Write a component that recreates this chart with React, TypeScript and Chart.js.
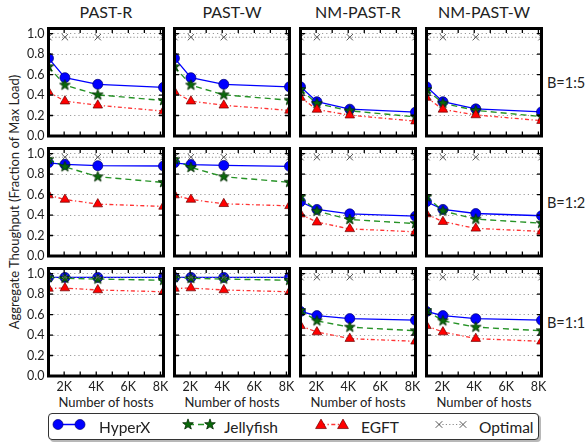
import React, { useEffect, useRef } from "react";
import { Chart, registerables } from "chart.js";

Chart.register(...registerables);

// ---------- data ----------
const hosts = [1024, 2048, 4096, 8192];
const columnTitles = ["PAST-R", "PAST-W", "NM-PAST-R", "NM-PAST-W"];
const rowLabels = ["B=1:5", "B=1:2", "B=1:1"];
const xTickValues = [2000, 3000, 4000, 5000, 6000, 7000, 8000];
const yTickValues = [0, 0.2, 0.4, 0.6, 0.8, 1.0];
const seriesNames = ["HyperX", "Jellyfish", "EGFT", "Optimal"];
const yAxisTitle = "Aggregate Thoughput (Fraction of Max Load)";
const xAxisTitle = "Number of hosts";

// [row][column][host]
const hyperX = [
  [[0.76, 0.57, 0.505, 0.475], [0.76, 0.57, 0.505, 0.48], [0.48, 0.335, 0.262, 0.233], [0.48, 0.335, 0.265, 0.235]],
  [[0.91, 0.895, 0.882, 0.879], [0.91, 0.893, 0.885, 0.876], [0.53, 0.455, 0.412, 0.389], [0.53, 0.455, 0.415, 0.393]],
  [[0.963, 0.963, 0.963, 0.963], [0.963, 0.963, 0.963, 0.963], [0.63, 0.59, 0.561, 0.545], [0.63, 0.59, 0.56, 0.545]],
];
const jellyfish = [
  [[0.677, 0.497, 0.402, 0.347], [0.677, 0.497, 0.402, 0.35], [0.454, 0.317, 0.246, 0.187], [0.454, 0.32, 0.25, 0.19]],
  [[0.944, 0.872, 0.774, 0.719], [0.944, 0.865, 0.774, 0.72], [0.578, 0.438, 0.357, 0.317], [0.578, 0.44, 0.36, 0.32]],
  [[0.963, 0.954, 0.947, 0.935], [0.963, 0.954, 0.947, 0.935], [0.639, 0.539, 0.477, 0.442], [0.639, 0.539, 0.477, 0.442]],
];
const egft = [
  [[0.43, 0.34, 0.3, 0.243], [0.43, 0.34, 0.3, 0.25], [0.376, 0.259, 0.203, 0.145], [0.376, 0.26, 0.205, 0.15]],
  [[0.595, 0.552, 0.507, 0.484], [0.595, 0.552, 0.51, 0.49], [0.409, 0.33, 0.265, 0.236], [0.41, 0.335, 0.27, 0.24]],
  [[0.855, 0.859, 0.84, 0.823], [0.855, 0.859, 0.84, 0.823], [0.49, 0.429, 0.365, 0.339], [0.49, 0.429, 0.365, 0.339]],
];
const optimal = [0.965, 0.965, 0.965, 0.965];

// ---------- layout ----------
const FONT = "Lato, 'Open Sans', sans-serif";
const COL_STEP = 126;
const ROW_STEP = 120;
const CANVAS_LEFT0 = 4;
const CANVAS_TOP0 = 16;
const Y_AXIS_W = 44.5;
const X_AXIS_H = 30;
const PAD_TOP = 12.5;
const PAD_RIGHT = 12.5;
const PLOT_W = 115;
const PLOT_H = 107.5;
const CANVAS_W = Y_AXIS_W + PLOT_W + PAD_RIGHT;
const CANVAS_H = PAD_TOP + PLOT_H + X_AXIS_H;

function makeStar(): HTMLCanvasElement {
  const c = document.createElement("canvas");
  c.width = 13;
  c.height = 13;
  const g = c.getContext("2d")!;
  g.translate(6.5, 6.5);
  g.beginPath();
  for (let i = 0; i < 10; i++) {
    const r = i % 2 === 0 ? 5.6 : 2.3;
    const a = -Math.PI / 2 + (i * Math.PI) / 5;
    const px = r * Math.cos(a);
    const py = r * Math.sin(a);
    if (i === 0) g.moveTo(px, py);
    else g.lineTo(px, py);
  }
  g.closePath();
  g.fillStyle = "#0a6a0a";
  g.fill();
  g.strokeStyle = "#002800";
  g.lineWidth = 0.8;
  g.stroke();
  return c;
}

const framePlugin = {
  id: "frameTicks",
  afterDraw(chart: any) {
    const { ctx, chartArea: a, scales } = chart;
    ctx.save();
    ctx.strokeStyle = "#000";
    ctx.lineWidth = 1.3;
    const tl = 4.5;
    ctx.beginPath();
    for (const v of xTickValues) {
      const x = scales.x.getPixelForValue(v);
      ctx.moveTo(x, a.bottom);
      ctx.lineTo(x, a.bottom - tl);
      ctx.moveTo(x, a.top);
      ctx.lineTo(x, a.top + tl);
    }
    for (const v of yTickValues) {
      const y = scales.y.getPixelForValue(v);
      ctx.moveTo(a.left, y);
      ctx.lineTo(a.left + tl, y);
      ctx.moveTo(a.right, y);
      ctx.lineTo(a.right - tl, y);
    }
    ctx.stroke();
    ctx.lineWidth = 3;
    ctx.strokeRect(a.left, a.top, a.right - a.left, a.bottom - a.top);
    ctx.restore();
  },
};

function Panel({ r, c }: { r: number; c: number }) {
  const ref = useRef<HTMLCanvasElement>(null);
  useEffect(() => {
    const star = makeStar();
    const showY = c === 0;
    const showX = r === 2;
    const chart = new Chart(ref.current!, {
      type: "line",
      data: {
        datasets: [
          {
            label: seriesNames[3],
            data: hosts.map((h, i) => ({ x: h, y: optimal[i] })),
            borderColor: "#8a8a8a",
            borderWidth: 1.1,
            borderDash: [1.2, 2.2],
            pointStyle: "crossRot",
            pointRadius: 4.5,
            pointBorderColor: "#555",
            pointBorderWidth: 1,
            order: 1,
            clip: 0,
          },
          {
            label: seriesNames[2],
            data: hosts.map((h, i) => ({ x: h, y: egft[r][c][i] })),
            borderColor: "rgba(255,0,0,0.8)",
            borderWidth: 1.3,
            borderDash: [4, 2.5, 1.3, 2.5],
            pointStyle: "triangle",
            pointRadius: 5.5,
            pointBackgroundColor: "#ff0000",
            pointBorderColor: "#6a0000",
            pointBorderWidth: 0.7,
            order: 2,
            clip: 0,
          },
          {
            label: seriesNames[1],
            data: hosts.map((h, i) => ({ x: h, y: jellyfish[r][c][i] })),
            borderColor: "rgba(0,128,0,0.85)",
            borderWidth: 1.4,
            borderDash: [6, 4],
            pointStyle: star,
            pointRadius: 5,
            order: 3,
            clip: 0,
          },
          {
            label: seriesNames[0],
            data: hosts.map((h, i) => ({ x: h, y: hyperX[r][c][i] })),
            borderColor: "#0000ff",
            borderWidth: 1.3,
            pointStyle: "circle",
            pointRadius: 5,
            pointBackgroundColor: "#0000ff",
            pointBorderColor: "#000070",
            pointBorderWidth: 0.7,
            order: 4,
            clip: 0,
          },
        ],
      },
      options: {
        animation: false,
        responsive: false,
        maintainAspectRatio: false,
        events: [],
        layout: { padding: { left: 0, top: PAD_TOP, right: PAD_RIGHT, bottom: 0 } },
        plugins: { legend: { display: false }, tooltip: { enabled: false }, title: { display: false } },
        elements: { line: { tension: 0 } },
        scales: {
          x: {
            type: "linear",
            min: 1024,
            max: 8192,
            grid: { display: false, drawTicks: false },
            border: { display: false },
            afterBuildTicks: (s: any) => {
              s.ticks = xTickValues.map((v) => ({ value: v }));
            },
            afterFit: (s: any) => {
              s.height = X_AXIS_H;
            },
            ticks: {
              display: showX,
              autoSkip: false,
              maxRotation: 0,
              minRotation: 0,
              padding: 3.5,
              color: "#222",
              font: { family: FONT, size: 12.5 },
              callback: (v: any) => (Number(v) % 2000 === 0 ? Number(v) / 1000 + "K" : ""),
            },
          },
          y: {
            type: "linear",
            min: 0,
            max: 1.05,
            grid: { display: true, drawTicks: false, color: "#9a9a9a", lineWidth: 1 },
            border: { display: false, dash: [1.2, 3] },
            afterBuildTicks: (s: any) => {
              s.ticks = yTickValues.map((v) => ({ value: v }));
            },
            afterFit: (s: any) => {
              s.width = Y_AXIS_W;
            },
            ticks: {
              display: showY,
              padding: 4,
              color: "#222",
              font: { family: FONT, size: 12.5 },
              callback: (v: any) => Number(v).toFixed(1),
            },
          },
        },
      },
      plugins: [framePlugin],
    } as any);
    return () => chart.destroy();
  }, [r, c]);
  return (
    <canvas
      ref={ref}
      width={CANVAS_W}
      height={CANVAS_H}
      style={{
        position: "absolute",
        left: CANVAS_LEFT0 + c * COL_STEP,
        top: CANVAS_TOP0 + r * ROW_STEP,
        width: CANVAS_W,
        height: CANVAS_H,
      }}
    />
  );
}

function StarSvg({ cx, cy }: { cx: number; cy: number }) {
  const pts: string[] = [];
  for (let i = 0; i < 10; i++) {
    const rr = i % 2 === 0 ? 5.6 : 2.3;
    const a = -Math.PI / 2 + (i * Math.PI) / 5;
    pts.push(`${cx + rr * Math.cos(a)},${cy + rr * Math.sin(a)}`);
  }
  return <polygon points={pts.join(" ")} fill="#0a6a0a" stroke="#002800" strokeWidth={0.8} />;
}

function TriSvg({ cx, cy }: { cx: number; cy: number }) {
  const s = 5.4;
  return (
    <polygon
      points={`${cx},${cy - s} ${cx - s},${cy + s * 0.75} ${cx + s},${cy + s * 0.75}`}
      fill="#ff0000"
      stroke="#6a0000"
      strokeWidth={0.7}
    />
  );
}

function CrossSvg({ cx, cy }: { cx: number; cy: number }) {
  const s = 3.3;
  return (
    <path
      d={`M${cx - s},${cy - s}L${cx + s},${cy + s}M${cx - s},${cy + s}L${cx + s},${cy - s}`}
      stroke="#555"
      strokeWidth={1}
    />
  );
}

function Legend() {
  const top = 413;
  const h = 27;
  const cy = 11.5;
  const text = (x: number, s: string) => (
    <div
      style={{
        position: "absolute",
        left: x,
        top: 0,
        height: h,
        lineHeight: h + "px",
        fontFamily: FONT,
        fontSize: 15.5,
        color: "#222",
        whiteSpace: "nowrap",
      }}
    >
      {s}
    </div>
  );
  return (
    <div
      style={{
        position: "absolute",
        left: 48,
        top,
        width: 491,
        height: h,
        border: "1px solid #333",
        borderRadius: 4,
        boxShadow: "2px 2px 0 #b8b8b8",
        background: "#fff",
        boxSizing: "border-box",
      }}
    >
      <svg width={491} height={h} style={{ position: "absolute", left: -1, top: -1 }}>
        <line x1={10} y1={cy} x2={32} y2={cy} stroke="#0000ff" strokeWidth={1.5} />
        <circle cx={10} cy={cy} r={5} fill="#0000ff" stroke="#000070" strokeWidth={0.7} />
        <circle cx={32} cy={cy} r={5} fill="#0000ff" stroke="#000070" strokeWidth={0.7} />

        <line x1={140} y1={cy} x2={162} y2={cy} stroke="rgba(0,128,0,0.85)" strokeWidth={1.4} strokeDasharray="6 4" />
        <StarSvg cx={140} cy={cy} />
        <StarSvg cx={162} cy={cy} />

        <line x1={273} y1={cy} x2={295} y2={cy} stroke="rgba(255,0,0,0.8)" strokeWidth={1.3} strokeDasharray="4 2.5 1.3 2.5" />
        <TriSvg cx={273} cy={cy} />
        <TriSvg cx={295} cy={cy} />

        <line x1={391} y1={cy} x2={415} y2={cy} stroke="#8a8a8a" strokeWidth={1.1} strokeDasharray="1.2 2.2" />
        <CrossSvg cx={391} cy={cy} />
        <CrossSvg cx={415} cy={cy} />
      </svg>
      {text(50, seriesNames[0])}
      {text(175, seriesNames[1])}
      {text(312, seriesNames[2])}
      {text(430, seriesNames[3])}
    </div>
  );
}

export default function App() {
  const panels: JSX.Element[] = [];
  for (let r = 0; r < 3; r++) for (let c = 0; c < 4; c++) panels.push(<Panel key={`${r}-${c}`} r={r} c={c} />);
  const colCenter = (c: number) => CANVAS_LEFT0 + c * COL_STEP + Y_AXIS_W + PLOT_W / 2;
  return (
    <div
      style={{
        position: "absolute",
        left: 0,
        top: 0,
        width: 585,
        height: 442,
        background: "#fff",
        overflow: "hidden",
        fontFamily: FONT,
      }}
    >
      {columnTitles.map((t, c) => (
        <div
          key={t}
          style={{
            position: "absolute",
            left: colCenter(c) - 60,
            width: 120,
            top: 3,
            textAlign: "center",
            fontSize: 16,
            lineHeight: "18px",
            color: "#222",
          }}
        >
          {t}
        </div>
      ))}
      {rowLabels.map((t, r) => (
        <div
          key={t}
          style={{
            position: "absolute",
            left: 547,
            top: 73 + r * ROW_STEP,
            fontSize: 14.5,
            lineHeight: "20px",
            color: "#222",
            whiteSpace: "nowrap",
          }}
        >
          {t}
        </div>
      ))}
      {columnTitles.map((t, c) => (
        <div
          key={"xt" + t}
          style={{
            position: "absolute",
            left: colCenter(c) - 60,
            width: 120,
            top: 394,
            textAlign: "center",
            fontSize: 13,
            lineHeight: "16px",
            color: "#222",
          }}
        >
          {xAxisTitle}
        </div>
      ))}
      <div
        style={{
          position: "absolute",
          left: 14 - 150,
          top: 202 - 8,
          width: 300,
          height: 16,
          lineHeight: "16px",
          textAlign: "center",
          fontSize: 13,
          color: "#222",
          transform: "rotate(-90deg)",
          whiteSpace: "nowrap",
        }}
      >
        {yAxisTitle}
      </div>
      {panels}
      <Legend />
    </div>
  );
}
